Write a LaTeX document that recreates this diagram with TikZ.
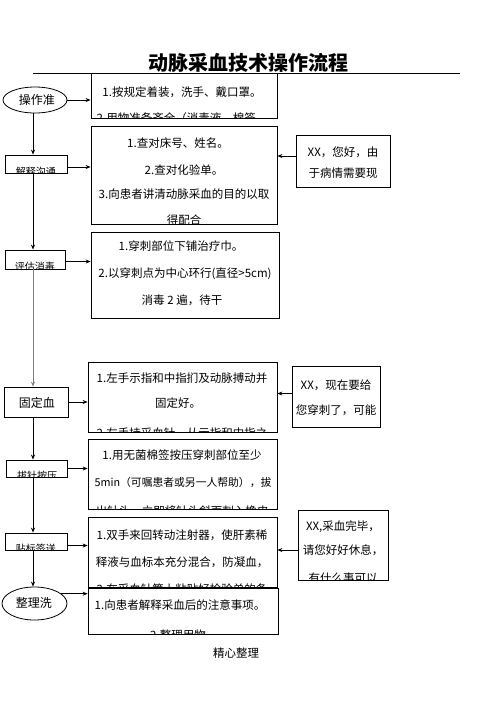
\documentclass[tikz,border=0pt]{standalone}
\usepackage{fontspec}
\setmainfont{Noto Sans CJK SC}
\usetikzlibrary{arrows.meta,shapes.geometric}
\begin{document}
\begin{tikzpicture}[x=1pt,y=-1pt,
 frame/.style={draw,line width=0.8pt,inner sep=0pt},
 oval/.style={draw,ellipse,line width=0.8pt,inner sep=0pt},
 txt/.style={inner sep=0pt,font=\fontsize{11.5}{13}\selectfont},
 stxt/.style={inner sep=0pt,font=\fontsize{10}{12}\selectfont},
 ltxt/.style={inner sep=0pt,font=\fontsize{12}{14}\selectfont},
 arr/.style={-{Stealth[length=5pt,width=4pt]},line width=0.8pt}]
\useasboundingbox (0,0) rectangle (496,702);

% title
\node[inner sep=0pt,font=\bfseries\fontsize{20}{24}\selectfont] (title) at (248,63) {动脉采血技术操作流程};
\coordinate (ls) at (33,73);
\coordinate (le) at (460,73);
\draw[line width=0.8pt] (ls) -- (le);

% big boxes
\node[frame,minimum width=186pt,minimum height=45pt] (b1) at (184,95.5) {};
\node[frame,minimum width=186pt,minimum height=98pt] (b2) at (184,175) {};
\node[frame,minimum width=188pt,minimum height=86pt] (b3) at (185,275) {};
\node[frame,minimum width=189pt,minimum height=70pt] (b4) at (182.5,397) {};
\node[frame,minimum width=189pt,minimum height=70pt] (b5) at (182.5,474) {};
\node[frame,minimum width=189pt,minimum height=70pt] (b6) at (182.5,552) {};
\node[frame,minimum width=190pt,minimum height=46pt] (b7) at (183,611) {};

% right boxes
\node[frame,minimum width=94pt,minimum height=52pt] (r1) at (343,161) {};
\node[frame,minimum width=88pt,minimum height=61pt] (r2) at (336,396.5) {};
\node[frame,minimum width=90pt,minimum height=70pt] (r3) at (343,545) {};

% left boxes
\node[oval,minimum width=64pt,minimum height=26pt] (e1) at (35,100) {};
\node[frame,minimum width=62pt,minimum height=18pt] (l2) at (36,164) {};
\node[frame,minimum width=60pt,minimum height=19pt] (l3) at (35,259.5) {};
\node[frame,minimum width=64pt,minimum height=30pt] (l4) at (36,402) {};
\node[frame,minimum width=61pt,minimum height=17pt] (l5) at (36.5,468.5) {};
\node[frame,minimum width=62pt,minimum height=17pt] (l6) at (36,541.5) {};
\node[oval,minimum width=65pt,minimum height=33pt] (e2) at (34.5,603.5) {};

% texts in big boxes (clipped)
\begin{scope}
\clip (b1.south west) rectangle (b1.north east);
\node[txt] (t1a) at (182,92) {1.按规定着装，洗手、戴口罩。};
\node[txt] (t1b) at (182,118) {2.用物准备齐全（消毒液、棉签、};
\end{scope}
\begin{scope}
\clip (b2.south west) rectangle (b2.north east);
\node[txt] (t2a) at (178,143) {1.查对床号、姓名。};
\node[txt] (t2b) at (184,170) {2.查对化验单。};
\node[txt] (t2c) at (184,194) {3.向患者讲清动脉采血的目的以取};
\node[txt] (t2d) at (184,220) {得配合};
\end{scope}
\begin{scope}
\clip (b3.south west) rectangle (b3.north east);
\node[txt] (t3a) at (181,246) {1.穿刺部位下铺治疗巾。};
\node[txt] (t3b) at (185,274) {2.以穿刺点为中心环行(直径>5cm)};
\node[txt] (t3c) at (182,300) {消毒 2 遍，待干};
\end{scope}
\begin{scope}
\clip (b4.south west) rectangle (b4.north east);
\node[txt] (t4a) at (182,378) {1.左手示指和中指扪及动脉搏动并};
\node[txt] (t4b) at (178,403) {固定好。};
\node[txt] (t4c) at (182,433) {2.左手持采血针，从示指和中指之};
\end{scope}
\begin{scope}
\clip (b5.south west) rectangle (b5.north east);
\node[txt] (t5a) at (182,455) {1.用无菌棉签按压穿刺部位至少};
\node[txt,font=\fontsize{10.8}{13}\selectfont] (t5b) at (183,482) {5min（可嘱患者或另一人帮助），拔};
\node[txt] (t5c) at (182,511) {出针头，立即将针头斜面刺入橡皮};
\end{scope}
\begin{scope}
\clip (b6.south west) rectangle (b6.north east);
\node[txt] (t6a) at (182,535) {1.双手来回转动注射器，使肝素稀};
\node[txt] (t6b) at (182,562) {释液与血标本充分混合，防凝血，};
\node[txt] (t6c) at (182,589) {2.在采血针筒上粘贴好检验单的条};
\end{scope}
\begin{scope}
\clip (b7.south west) rectangle (b7.north east);
\node[txt] (t7a) at (180,605) {1.向患者解释采血后的注意事项。};
\node[txt] (t7b) at (178,635) {2.整理用物};
\end{scope}

% right texts
\begin{scope}
\clip (r1.south west) rectangle (r1.north east);
\node[txt] (s1a) at (343,152) {XX，您好，由};
\node[txt] (s1b) at (343,173) {于病情需要现};
\end{scope}
\begin{scope}
\clip (r2.south west) rectangle (r2.north east);
\node[txt] (s2a) at (336,385) {XX，现在要给};
\node[txt] (s2b) at (336,410) {您穿刺了，可能};
\end{scope}
\begin{scope}
\clip (r3.south west) rectangle (r3.north east);
\node[txt] (s3a) at (343,527) {XX,采血完毕，};
\node[txt] (s3b) at (343,550) {请您好好休息，};
\node[txt] (s3c) at (343,578) {有什么事可以};
\end{scope}

% left texts
\node[ltxt] (u1) at (37,100) {操作准};
\begin{scope}
\clip (l2.south west) rectangle (l2.north east);
\node[stxt] (u2) at (36,172) {解释沟通};
\end{scope}
\begin{scope}
\clip (l3.south west) rectangle (l3.north east);
\node[stxt] (u3) at (35,267) {评估消毒};
\end{scope}
\node[ltxt] (u4) at (37,403) {固定血};
\begin{scope}
\clip (l5.south west) rectangle (l5.north east);
\node[stxt] (u5) at (37,476) {拔针按压};
\end{scope}
\begin{scope}
\clip (l6.south west) rectangle (l6.north east);
\node[stxt] (u6) at (36,549) {贴标签送};
\end{scope}
\node[ltxt] (u7) at (34,603) {整理洗};

\node[txt] (foot) at (236,653) {精心整理};

% vertical connectors
\draw[arr] (e1.south -| 33,0) -- (l2.north -| 33,0);
\draw[arr] (l2.south -| 33,0) -- (l3.north -| 33,0);
\draw[arr,draw=gray] (l3.south -| 33,0) -- (l4.north -| 33,0);
\draw[arr] (l4.south -| 33,0) -- (l5.north -| 33,0);
\draw[arr] (l5.south -| 33,0) -- (l6.north -| 33,0);
\draw[arr] (l6.south -| 33,0) -- (e2.north -| 33,0);

% horizontal connectors
\draw[arr] (e1.east) -- (e1.east -| b1.west);
\draw[arr] ([yshift=-3pt]l2.east) -- ([yshift=-3pt]l2.east -| b2.west);
\draw[arr] ([yshift=-2pt]l3.east) -- ([yshift=-2pt]l3.east -| b3.west);
\draw[arr] (l4.east) -- (l4.east -| b4.west);
\draw[arr] (l5.east) -- (l5.east -| b5.west);
\draw[arr] ([yshift=-4pt]l6.east) -- ([yshift=-4pt]l6.east -| b6.west);
\draw[arr] (e2.20) -- (e2.20 -| b7.west);

\draw[arr] ([yshift=5pt]r1.west) -- ([yshift=5pt]r1.west -| b2.east);
\draw[arr] ([yshift=3pt]r2.west) -- ([yshift=3pt]r2.west -| b4.east);
\draw[arr] ([yshift=-5pt]r3.west) -- ([yshift=-5pt]r3.west -| b6.east);
\end{tikzpicture}
\end{document}
